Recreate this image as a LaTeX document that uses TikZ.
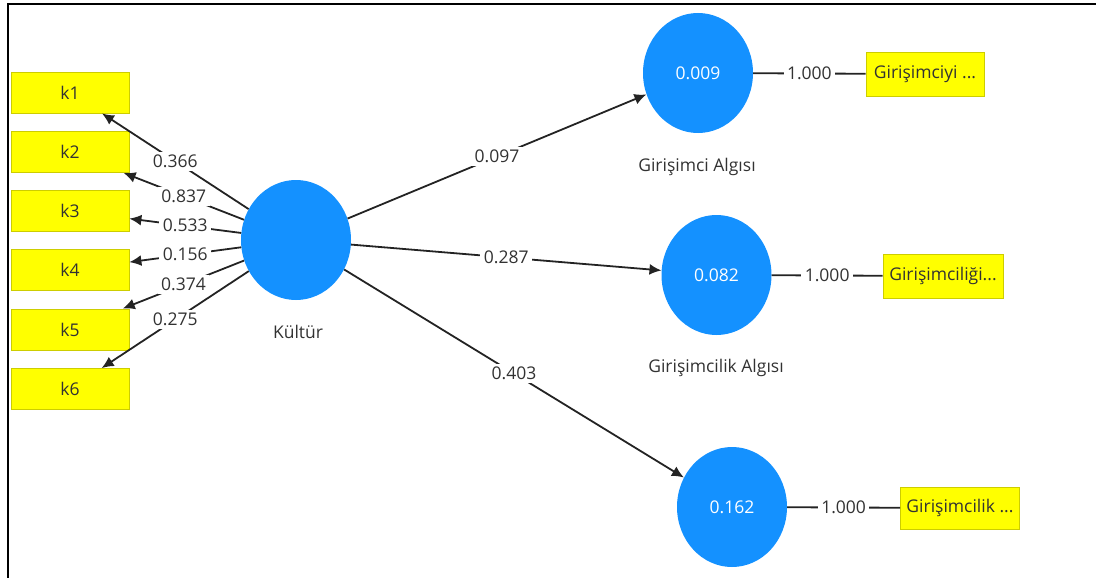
\documentclass[tikz,border=0pt]{standalone}
\usepackage{fontspec}
\setmainfont{Open Sans}
\usetikzlibrary{shapes.geometric,arrows.meta}
\definecolor{plsblue}{RGB}{20,145,255}
\definecolor{plsyellow}{RGB}{255,255,0}
\definecolor{plsyedge}{RGB}{205,205,0}
\definecolor{plstext}{RGB}{50,50,50}
\definecolor{plsline}{RGB}{35,35,35}
\begin{document}
\begin{tikzpicture}[x=1pt,y=-1pt,
  font=\fontsize{17.5}{20}\selectfont,
  lv/.style={ellipse, fill=plsblue, minimum width=110pt, minimum height=120pt, inner sep=0pt, text=white},
  ind/.style={rectangle, fill=plsyellow, draw=plsyedge, line width=0.8pt, minimum width=118pt, minimum height=41pt, inner sep=2pt, text=plstext},
  lvname/.style={text=plstext, inner sep=1pt},
  coef/.style={fill=white, inner xsep=3.5pt, inner ysep=3pt, text=plstext},
  conn/.style={draw=plsline, line width=1.8pt, -{Latex[length=12pt,width=11pt]}},
  onetoone/.style={draw=plsline, line width=1.8pt}
]
\useasboundingbox (0,0) rectangle (1096,578);
\draw[line width=2.2pt, black] (8,578) -- (8,4) -- (1096,4);

% latent variables
\node[lv] (kul) at (296,240) {};
\node[lvname] (kullab) at (298,332) {Kültür};
\node[lv] (ga) at (698,73) {0.009};
\node[lvname] (galab) at (697,167) {Girişimci Algısı};
\node[lv] (gc) at (716.5,275) {0.082};
\node[lvname] (gclab) at (716,368) {Girişimcilik Algısı};
\node[lv] (gi) at (732,507) {0.162};

% indicators
\node[ind] (k1) at (70,92.5) {k1};
\node[ind] (k2) at (70,152) {k2};
\node[ind] (k3) at (70,211) {k3};
\node[ind] (k4) at (70,270) {k4};
\node[ind] (k5) at (70,329.5) {k5};
\node[ind] (k6) at (70,389) {k6};
\node[ind, minimum height=44pt] (gai) at (925,74) {Girişimciyi ...};
\node[ind, minimum height=44pt, minimum width=120pt] (gci) at (943,276) {Girişimciliği...};
\node[ind, minimum height=42pt, minimum width=119pt] (gii) at (960,508) {Girişimcilik ...};

% outer loadings
\draw[conn] (kul) -- node[coef] {0.366} (k1);
\draw[conn] (kul) -- node[coef] {0.837} (k2);
\draw[conn] (kul) -- node[coef] {0.533} (k3);
\draw[conn] (kul) -- node[coef] {0.156} (k4);
\draw[conn] (kul) -- node[coef] {0.374} (k5);
\draw[conn] (kul) -- node[coef] {0.275} (k6);

% path coefficients
\draw[conn] (kul) -- node[coef] {0.097} (ga);
\draw[conn] (kul) -- node[coef] {0.287} (gc);
\draw[conn] (kul) -- node[coef] {0.403} (gi);

% single-indicator links
\draw[onetoone] (ga) -- node[coef] {1.000} (gai);
\draw[onetoone] (gc) -- node[coef] {1.000} (gci);
\draw[onetoone] (gi) -- node[coef] {1.000} (gii);
\end{tikzpicture}
\end{document}
